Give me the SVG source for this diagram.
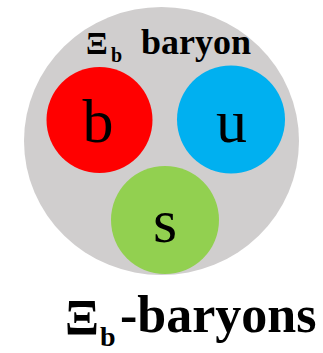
<svg xmlns="http://www.w3.org/2000/svg" width="323" height="353" viewBox="0 0 323 353">
<style>
.q{font-family:"Liberation Serif","Times New Roman",serif;font-size:62px;fill:#000;text-anchor:middle}
.t{font-family:"Liberation Serif","Times New Roman",serif;font-weight:bold;fill:#000}
</style>
<rect width="323" height="353" fill="#fff"/>
<g id="baryon">
<ellipse cx="161.5" cy="141" rx="137.5" ry="134" fill="#D0CECE"/>
<text class="t" font-size="36"><tspan x="86" y="54" font-size="32">Ξ</tspan><tspan x="111" y="62" font-size="20">b</tspan><tspan x="141" y="54">baryon</tspan></text>
</g>
<g id="quark-b">
<circle cx="99.5" cy="120" r="53" fill="#FF0000"/>
<text class="q" x="98" y="142">b</text>
</g>
<g id="quark-u">
<circle cx="231" cy="119.5" r="54" fill="#00B0F0"/>
<text class="q" x="231.5" y="142">u</text>
</g>
<g id="quark-s">
<circle cx="165" cy="220" r="54" fill="#92D050"/>
<text class="q" x="165" y="242">s</text>
</g>
<g id="label">
<text class="t" font-size="52"><tspan x="65" y="334" font-size="50">Ξ</tspan><tspan x="100" y="346" font-size="28">b</tspan><tspan x="120" y="332">-baryons</tspan></text>
</g>
</svg>
